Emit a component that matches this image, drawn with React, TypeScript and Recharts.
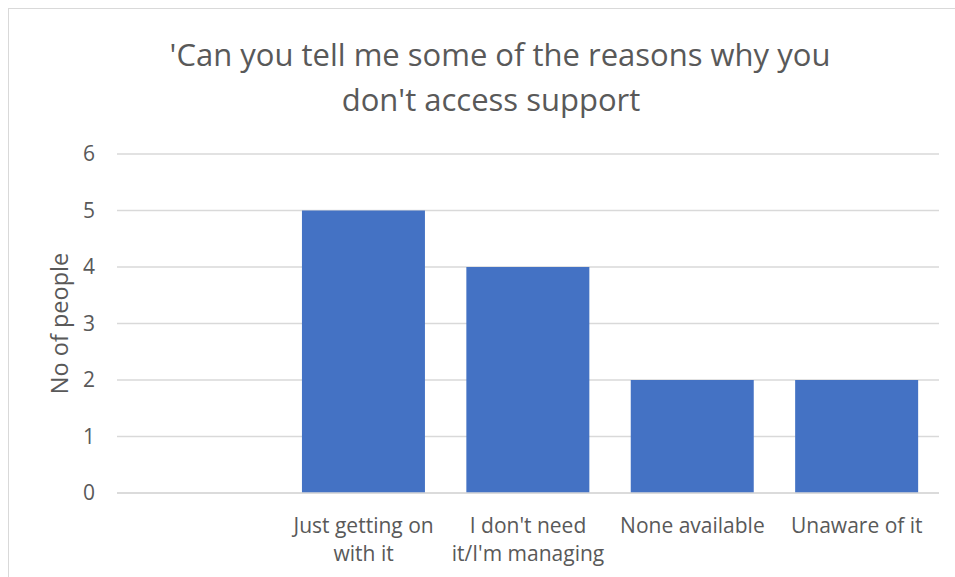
import React from "react";
import { BarChart, Bar, XAxis, YAxis, CartesianGrid, Label } from "recharts";

const titleLines = ["'Can you tell me some of the reasons why you", "don't access support"];
const categories = ["", "Just getting on\nwith it", "I don't need\nit/I'm managing", "None available", "Unaware of it"];
const peopleCounts: (number | null)[] = [null, 5, 4, 2, 2];
const yTicks = [0, 1, 2, 3, 4, 5, 6];
const yAxisTitle = "No of people";

const data = categories.map((c, i) => ({ category: c, value: peopleCounts[i] }));

const FONT = "'Open Sans', sans-serif";
const GRAY = "#595959";

const XTick = (props: any) => {
  const { x, y, payload } = props;
  const lines = String(payload.value).split("\n");
  return (
    <text x={x} y={y} textAnchor="middle" fill={GRAY} fontFamily={FONT} fontSize={21}>
      {lines.map((l, i) => (
        <tspan key={i} x={x} dy={i === 0 ? 32 : 28}>
          {l}
        </tspan>
      ))}
    </text>
  );
};

const YTick = (props: any) => {
  const { x, y, payload } = props;
  return (
    <text x={x} y={y} dy={7} textAnchor="end" fill={GRAY} fontFamily={FONT} fontSize={21}>
      {payload.value}
    </text>
  );
};

export default function App() {
  return (
    <div style={{ position: "absolute", left: 0, top: 0, width: 955, height: 577, overflow: "hidden", background: "#fff" }}>
      <div
        style={{
          position: "absolute",
          left: 8,
          top: 8,
          width: 1000,
          height: 600,
          border: "1.5px solid #d9d9d9",
          boxSizing: "border-box",
        }}
      />
      <div
        style={{
          position: "absolute",
          left: 0,
          top: 0,
          width: 1000,
          textAlign: "center",
          fontFamily: FONT,
          fontSize: 31,
          color: GRAY,
          lineHeight: "45px",
          paddingTop: 32,
        }}
      >
        <div>{titleLines[0]}</div>
        <div style={{ marginLeft: -18 }}>{titleLines[1]}</div>
      </div>
      <div style={{ position: "absolute", left: 0, top: 0 }}>
        <BarChart
          width={955}
          height={577}
          data={data}
          margin={{ top: 154, right: 16, left: 0, bottom: 0 }}
          barCategoryGap="12.5%"
        >
          <CartesianGrid vertical={false} stroke="#d9d9d9" strokeWidth={1.3} />
          <XAxis
            dataKey="category"
            axisLine={{ stroke: "#d9d9d9", strokeWidth: 1.5 }}
            tickLine={false}
            tick={<XTick />}
            interval={0}
            height={84}
          />
          <YAxis
            domain={[0, 6]}
            ticks={yTicks}
            width={117}
            axisLine={false}
            tickLine={false}
            tickMargin={16}
            tick={<YTick />}
          >
            <Label
              content={(p: any) => {
                const vb = p.viewBox;
                const cx = vb.x + 59;
                const cy = vb.y + vb.height / 2;
                return (
                  <text
                    x={cx}
                    y={cy}
                    transform={`rotate(-90 ${cx} ${cy})`}
                    textAnchor="middle"
                    dominantBaseline="central"
                    fill={GRAY}
                    fontFamily={FONT}
                    fontSize={23.5}
                  >
                    {yAxisTitle}
                  </text>
                );
              }}
            />
          </YAxis>
          <Bar dataKey="value" fill="#4472C4" isAnimationActive={false} />
        </BarChart>
      </div>
    </div>
  );
}
